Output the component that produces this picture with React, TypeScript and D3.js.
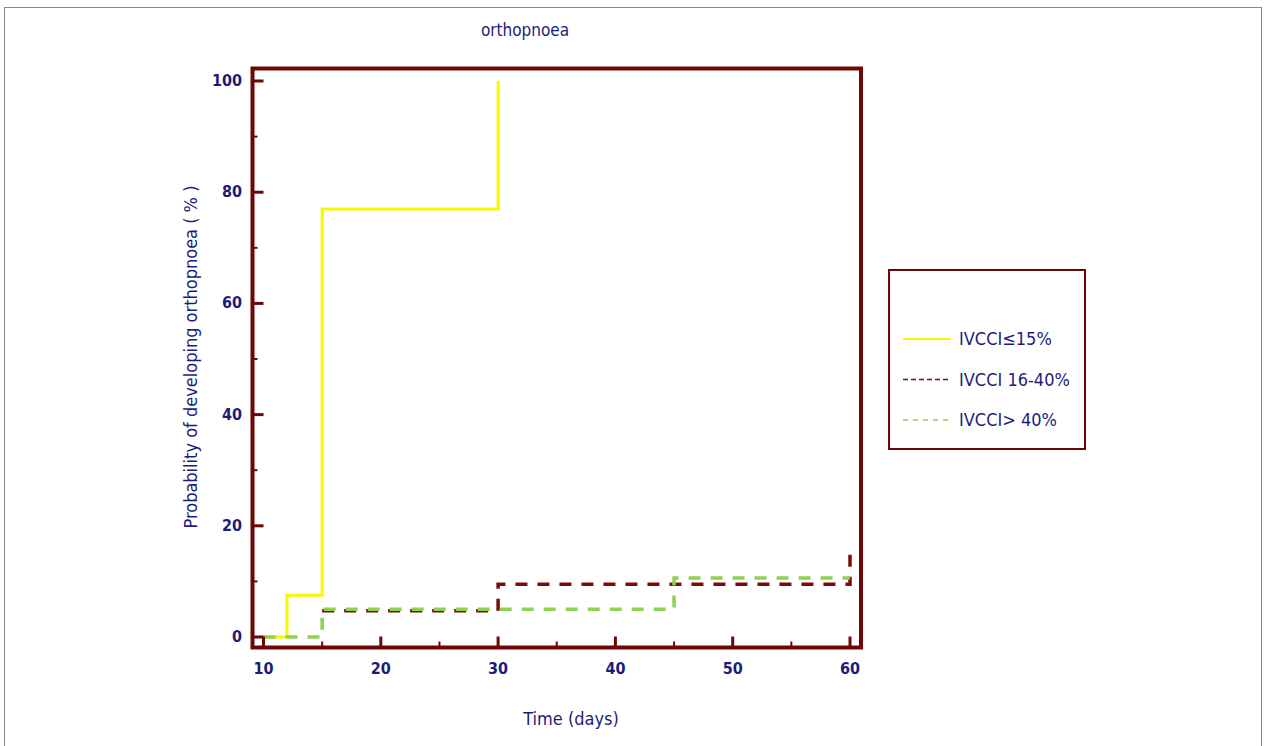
import React from 'react';
import * as d3 from 'd3';

// step curves (day, % probability)
const lowTimes = [10, 12, 15, 30];
const lowValues = [0, 7.5, 77, 100];
const midTimes = [15, 30, 60];
const midValues = [4.7, 9.5, 16.5];
const highTimes = [10, 15, 45, 60];
const highValues = [0, 5, 10.6, 10.6];

const seriesNames = ['IVCCI≤15%', 'IVCCI 16-40%', 'IVCCI> 40%'];
const xTicks = [10, 20, 30, 40, 50, 60];
const xMinor = [15, 25, 35, 45, 55];
const yTicks = [0, 20, 40, 60, 80, 100];
const yMinor = [10, 30, 50, 70, 90];

const W = 1267;
const H = 746;
const FRAME = '#6e0606';
const NAVY = '#1d1d78';
const FONT = '"Liberation Sans Narrow", "Arial Narrow", "DejaVu Sans Condensed", sans-serif';

export default function App() {
  const x = d3.scaleLinear().domain([10, 60]).range([263.5, 850]);
  const y = d3.scaleLinear().domain([0, 100]).range([637, 81]);
  const box = { left: 252.5, top: 68.5, right: 861, bottom: 647.5 };

  const line = d3.line<[number, number]>()
    .x(d => x(d[0]))
    .y(d => y(d[1]))
    .curve(d3.curveStepAfter);

  const zip = (t: number[], v: number[]) => t.map((d, i) => [d, v[i]] as [number, number]);

  const series = [
    { name: seriesNames[0], pts: zip(lowTimes, lowValues), color: '#f7f700', width: 3, dash: null, legendDash: null },
    { name: seriesNames[1], pts: zip(midTimes, midValues), color: '#7a0c0c', width: 3.5, dash: '12 10', legendDash: '5 3' },
    { name: seriesNames[2], pts: zip(highTimes, highValues), color: '#92d050', width: 3.5, dash: '12 10', legendDash: '5 5' },
  ];

  return (
    <svg width={W} height={H} style={{ position: 'absolute', left: 0, top: 0, background: '#fff' }}>
      <rect x={4.5} y={7.5} width={1257} height={760} fill="none" stroke="#8a8a8a" strokeWidth={1} />

      <text x={525} y={36} textAnchor="middle" fontFamily={FONT} fontSize={17} fill={NAVY}>orthopnoea</text>

      {/* yellow first, then red, green on top */}
      {series.map(s => (
        <path key={s.name} d={line(s.pts) || ''} fill="none" stroke={s.color} strokeWidth={s.width}
          strokeDasharray={s.dash || undefined} />
      ))}

      {/* frame */}
      <rect x={box.left} y={box.top} width={box.right - box.left} height={box.bottom - box.top}
        fill="none" stroke={FRAME} strokeWidth={4} />

      {/* y ticks, inside the frame */}
      {yTicks.map(t => (
        <g key={'y' + t}>
          <line x1={box.left} x2={box.left + 11} y1={y(t)} y2={y(t)} stroke={FRAME} strokeWidth={3} />
          <text x={242} y={y(t) + 5} textAnchor="end" fontFamily={FONT} fontWeight="bold" fontSize={16} fill={NAVY}>{t}</text>
        </g>
      ))}
      {yMinor.map(t => (
        <line key={'ym' + t} x1={box.left} x2={box.left + 5} y1={y(t)} y2={y(t)} stroke={FRAME} strokeWidth={2} />
      ))}

      {/* x ticks */}
      {xTicks.map(t => (
        <g key={'x' + t}>
          <line x1={x(t)} x2={x(t)} y1={box.bottom} y2={box.bottom - 11} stroke={FRAME} strokeWidth={3} />
          <text x={x(t)} y={674} textAnchor="middle" fontFamily={FONT} fontWeight="bold" fontSize={16} fill={NAVY}>{t}</text>
        </g>
      ))}
      {xMinor.map(t => (
        <line key={'xm' + t} x1={x(t)} x2={x(t)} y1={box.bottom} y2={box.bottom - 6} stroke={FRAME} strokeWidth={2} />
      ))}

      <text transform="translate(197,357) rotate(-90)" textAnchor="middle" fontFamily={FONT} fontSize={18} fill={NAVY}>
        Probability of developing orthopnoea ( % )
      </text>
      <text x={571} y={725} textAnchor="middle" fontFamily={FONT} fontSize={18} fill={NAVY}>Time (days)</text>

      {/* legend */}
      <rect x={889} y={270} width={196} height={179} fill="#fff" stroke={FRAME} strokeWidth={2} />
      {series.map((s, i) => {
        const ly = 339 + i * 40.5;
        return (
          <g key={'lg' + s.name}>
            <line x1={903} x2={951} y1={ly} y2={ly} stroke={s.color} strokeWidth={s.dash ? 1.6 : 2}
              strokeDasharray={s.legendDash || undefined} />
            <text x={959} y={ly + 6} fontFamily={FONT} fontSize={18} fill={NAVY}>{s.name}</text>
          </g>
        );
      })}
    </svg>
  );
}
